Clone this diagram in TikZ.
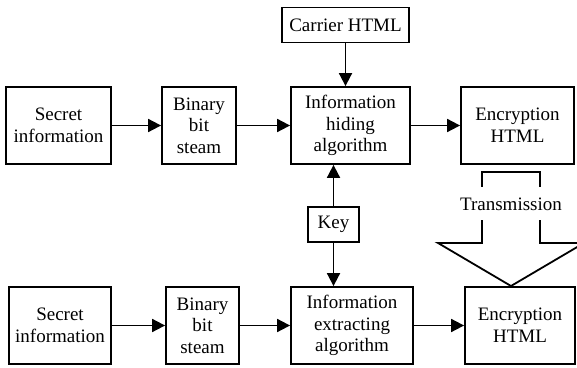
\documentclass[tikz,border=0pt]{standalone}
\usepackage{fontspec}
\setmainfont{Liberation Serif}
\usetikzlibrary{arrows.meta,positioning}

\begin{document}
\begin{tikzpicture}[x=0.5pt, y=-0.5pt, node distance=26pt, font=\fontsize{9.5}{10.8}\selectfont]
    \tikzstyle{block} = [rectangle, draw, line width=0.9pt, minimum height=38.5pt, align=center, inner sep=1pt]
    \tikzstyle{smallbox} = [rectangle, draw, line width=0.9pt, minimum height=17.5pt, align=center, inner sep=1pt]
    \tikzstyle{arrow} = [line width=0.9pt, -{Triangle[length=6.5pt,width=6.5pt]}]
    \useasboundingbox (0,0) rectangle (577,368);

    % hiding side
    \node [block, minimum width=52.5pt] (secret) at (58.5,125.5) {Secret\\information};
    \node [block, minimum width=37pt, right=24.6pt of secret] (binary) {Binary\\bit\\steam};
    \node [block, minimum width=59.5pt, right=26.6pt of binary] (hiding) {Information\\hiding\\algorithm};
    \node [block, minimum width=56.5pt, right=24.6pt of hiding] (encrypt) {Encryption\\HTML};
    \node [smallbox, minimum width=63.5pt] (carrier) at (345.5,25) {Carrier HTML};
    \node [smallbox, minimum width=25.5pt] (key) at (333.5,224.5) {Key};

    % extracting side
    \node [block, minimum width=51pt] (secret2) at (60,325.5) {Secret\\information};
    \node [block, minimum width=36.5pt, right=26.6pt of secret2] (binary2) {Binary\\bit\\steam};
    \node [block, minimum width=61pt, right=25.1pt of binary2] (extract) {Information\\extracting\\algorithm};
    \node [block, minimum width=55pt, right=25.1pt of extract] (encrypt2) {Encryption\\HTML};

    \draw [arrow] (secret) -- (binary);
    \draw [arrow] (binary) -- (hiding);
    \draw [arrow] (hiding) -- (encrypt);
    \draw [arrow] (carrier) -- (carrier |- hiding.north);
    \draw [arrow] (key) -- (key |- hiding.south);
    \draw [arrow] (key) -- (key |- extract.north);
    \draw [arrow] (secret2) -- (binary2);
    \draw [arrow] (binary2) -- (extract);
    \draw [arrow] (extract) -- (encrypt2);

    % transmission
    \draw [line width=0.9pt] (482,172) -- (540,172) -- (540,243) -- (584,243) -- (511,286) -- (438,243) -- (482,243) -- cycle;
    \node [fill=white, minimum height=16.5pt, inner sep=1pt] (trans) at (511,204) {Transmission};
\end{tikzpicture}
\end{document}
